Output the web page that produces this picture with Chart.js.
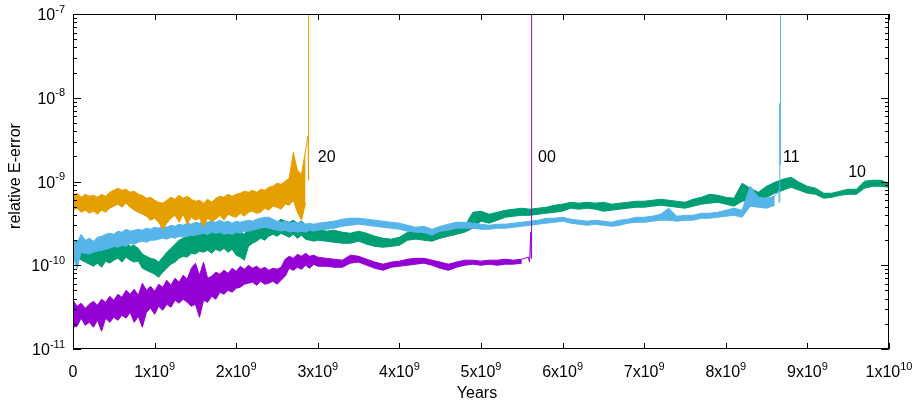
<!DOCTYPE html>
<html>
<head>
<meta charset="utf-8">
<script src="https://cdn.jsdelivr.net/npm/chart.js@4.4.1/dist/chart.umd.min.js"></script>
<style>
  html, body { margin: 0; padding: 0; background: #ffffff; }
  #wrap { width: 914px; height: 406px; }
</style>
</head>
<body>
<div id="wrap"><canvas id="c" width="914" height="406"></canvas></div>
<script>
// ---------------- DATA ----------------
// x stations in units of 1e9 years
const yearsGrid = [
  0.00,0.05,0.10,0.15,0.20,0.25,0.30,0.35,0.40,0.45,
  0.50,0.55,0.60,0.65,0.70,0.75,0.80,0.85,0.90,0.95,
  1.00,1.05,1.10,1.15,1.20,1.25,1.30,1.35,1.40,1.45,
  1.50,1.55,1.60,1.65,1.70,1.75,1.80,1.85,1.90,1.95,
  2.00,2.05,2.10,2.15,2.20,2.25,2.30,2.35,2.40,2.45,
  2.50,2.55,2.60,2.65,2.70,2.75,2.80,2.85,2.90,2.95,
  3.00,
  3.1,3.2,3.3,3.4,3.5,3.6,3.7,3.8,3.9,4.0,
  4.1,4.2,4.3,4.4,4.5,4.6,4.7,4.8,4.9,5.0,
  5.1,5.2,5.3,5.4,5.5,5.6,5.7,5.8,5.9,6.0,
  6.1,6.2,6.3,6.4,6.5,6.6,6.7,6.8,6.9,7.0,
  7.1,7.2,7.3,7.4,7.5,7.6,7.7,7.8,7.9,8.0,
  8.1,8.2,8.3,8.4,8.5,8.6,8.7,8.8,8.9,9.0,
  9.1,9.2,9.3,9.4,9.5,9.6,9.7,9.8,9.9,10.0
];

// relative E-error, in units of 1e-10: upper / lower edge of each noisy band
const run20Hi = [
  6.85,7.24,6.48,7.04,6.67,6.85,6.48,7.04,6.67,7.44,
  7.86,8.31,7.86,8.08,7.44,7.65,7.04,6.85,6.31,6.48,
  5.97,5.65,5.51,5.97,6.48,6.14,6.85,6.31,6.67,6.14,
  5.81,5.97,5.51,6.14,5.65,6.31,6.67,6.48,7.04,6.67,
  7.04,7.24,7.65,7.44,7.86,7.44,8.08,7.86,8.53,8.77,
  9.53,9.27,10.07,10.95,22.3,13.63,12.2,23.6
];
const run20Lo = [
  4.54,4.80,4.29,4.54,4.18,4.42,4.07,4.54,4.29,4.80,
  5.07,5.36,4.93,5.51,4.93,4.54,4.29,4.07,3.85,3.45,
  3.64,3.26,2.69,3.18,3.64,3.95,3.26,4.07,3.09,3.74,
  3.45,3.64,2.92,3.64,3.36,3.55,3.95,3.45,4.07,3.85,
  3.74,4.18,3.85,4.29,4.42,4.18,4.29,4.80,4.54,5.07,
  4.93,4.67,5.36,5.21,5.97,4.29,3.45,5.51
];
const run20End = [[2.85,23.6],[2.88,34.7],[2.884,10.35],[2.888,34.7],[2.89,10000]];

const run00Hi = [
  0.382,0.324,0.352,0.307,0.342,0.372,0.333,0.393,0.361,0.426,
  0.382,0.450,0.414,0.503,0.450,0.517,0.438,0.610,0.503,0.561,
  0.489,0.593,0.546,0.662,0.577,0.700,0.627,0.760,0.681,0.920,
  1.057,0.760,1.086,0.700,0.740,0.824,0.781,0.871,0.800,0.920,
  0.847,0.973,0.896,1.00,0.920,0.973,0.896,0.946,0.871,0.920,
  0.896,0.946,1.18,1.28,1.21,1.35,1.28,1.39,1.28,1.32,
  1.25,
  1.21,1.18,1.15,1.32,1.28,1.18,1.09,1.03,1.09,1.12,
  1.18,1.21,1.21,1.15,1.09,1.03,1.09,1.15,1.15,1.12,
  1.15,1.15,1.18,1.15,1.18
];
const run00Lo = [
  0.182,0.187,0.233,0.192,0.208,0.182,0.220,0.163,0.233,0.208,
  0.239,0.220,0.253,0.233,0.274,0.208,0.246,0.182,0.274,0.307,
  0.260,0.324,0.290,0.342,0.315,0.382,0.352,0.393,0.361,0.324,
  0.342,0.239,0.382,0.361,0.426,0.393,0.476,0.450,0.503,0.476,
  0.531,0.546,0.593,0.610,0.627,0.577,0.645,0.593,0.610,0.645,
  0.593,0.662,0.740,0.920,0.871,0.946,0.896,1.00,0.920,1.03,
  0.973,
  0.973,0.946,0.946,1.06,1.09,1.00,0.920,0.871,0.946,0.973,
  1.00,1.03,1.06,1.00,0.920,0.871,0.946,1.00,1.03,1.00,
  1.03,1.00,1.03,1.03,1.06
];
const run00End = [[5.5,1.18],[5.58,1.25],[5.595,1.09],[5.61,2.47],[5.615,1.21],[5.62,10000]];

const run10Hi = [
  1.83,1.99,1.78,1.68,1.51,1.43,1.55,1.47,1.64,1.59,
  1.73,1.88,1.78,1.94,1.68,1.73,1.59,1.36,1.28,1.21,
  1.18,1.09,1.25,1.43,1.59,1.78,1.99,2.10,2.22,2.28,
  2.41,2.34,2.48,2.28,2.55,2.41,2.62,2.48,2.62,2.77,
  2.55,2.48,2.34,2.77,2.92,3.00,3.18,3.09,3.36,3.45,
  3.26,3.55,3.36,3.26,3.45,3.18,3.36,3.09,2.84,2.69,
  2.77,
  2.55,2.62,2.48,2.41,2.55,2.41,2.22,2.10,2.05,2.16,
  2.48,2.55,2.41,2.34,2.55,2.62,2.77,2.92,4.29,4.42,
  4.07,4.29,4.54,4.67,4.80,4.67,4.80,4.93,5.21,5.36,
  5.65,5.51,5.65,5.51,5.65,5.36,5.51,5.65,5.81,5.81,
  5.97,6.14,5.97,5.81,5.65,6.14,6.48,7.04,6.85,6.48,
  6.31,9.53,8.31,7.44,8.77,9.78,10.65,11.25,9.78,8.77,
  8.31,7.24,7.24,7.65,8.08,8.08,10.07,10.35,10.35,9.53
];
const run10Lo = [
  1.21,1.32,1.15,1.09,1.03,0.973,1.06,0.946,1.12,1.06,
  1.15,1.21,1.09,1.25,1.15,1.09,1.12,0.920,0.871,0.824,
  0.781,0.719,0.824,0.920,1.03,1.09,1.21,1.28,1.25,1.39,
  1.36,1.47,1.43,1.51,1.39,1.55,1.47,1.59,1.43,1.55,
  1.32,1.25,1.15,1.68,1.83,1.94,2.10,1.99,2.22,2.34,
  2.22,2.41,2.28,2.16,2.34,2.10,2.28,2.05,1.99,1.94,
  1.99,
  1.94,1.88,1.83,1.83,1.94,1.78,1.68,1.64,1.68,1.73,
  1.99,2.05,1.99,1.94,2.10,2.22,2.34,2.48,2.77,3.36,
  3.18,3.45,3.74,3.85,3.95,3.95,4.07,4.18,4.29,4.42,
  4.80,4.67,4.80,4.67,4.42,4.54,4.67,4.80,4.93,4.93,
  5.07,5.21,5.07,4.93,4.80,5.07,5.36,5.51,5.65,5.36,
  5.07,5.81,5.97,6.14,6.48,7.24,7.86,8.53,7.86,7.24,
  7.04,6.31,6.48,6.85,7.04,7.04,8.31,8.77,8.77,8.53
];

const run11Hi = [
  1.99,1.83,2.34,1.99,2.10,1.94,2.16,2.22,2.34,2.41,
  2.34,2.55,2.48,2.69,2.55,2.62,2.69,2.62,2.77,2.69,
  2.84,2.77,2.92,2.84,3.00,2.92,3.09,3.00,3.18,3.09,
  3.26,3.18,3.36,3.26,3.36,3.26,3.45,3.26,3.36,3.18,
  3.36,3.26,3.36,3.45,3.36,3.55,3.64,3.74,3.74,3.55,
  3.36,3.26,3.36,3.18,3.26,3.18,3.26,3.09,3.18,3.09,
  3.18,
  3.26,3.36,3.55,3.64,3.64,3.55,3.45,3.36,3.26,3.18,
  3.00,2.84,2.92,2.69,2.92,3.09,3.26,3.26,3.18,3.09,
  3.00,3.09,3.09,3.18,3.26,3.36,3.45,3.64,3.64,3.74,
  3.55,3.45,3.36,3.45,3.36,3.26,3.45,3.55,3.74,3.74,
  3.85,4.07,4.80,3.85,3.95,3.95,4.18,4.18,4.29,4.54,
  4.80,4.54,8.77,6.48,6.31,6.67
];
const run11Lo = [
  1.25,0.920,1.43,1.39,1.36,1.43,1.47,1.51,1.55,1.59,
  1.68,1.64,1.73,1.68,1.83,1.78,1.88,1.94,1.88,1.99,
  1.99,2.05,2.10,2.05,2.16,2.10,2.22,2.16,2.22,2.28,
  2.28,2.34,2.41,2.34,2.48,2.41,2.48,2.34,2.41,2.34,
  2.48,2.41,2.55,2.55,2.62,2.69,2.77,2.84,2.77,2.69,
  2.62,2.55,2.62,2.48,2.55,2.48,2.55,2.48,2.62,2.55,
  2.62,
  2.69,2.77,2.92,3.00,3.09,3.00,2.92,2.84,2.77,2.69,
  2.55,2.48,2.48,2.28,2.55,2.62,2.77,2.77,2.77,2.69,
  2.69,2.77,2.77,2.84,2.92,3.00,3.09,3.18,3.26,3.36,
  3.18,3.09,3.00,3.09,3.00,2.92,3.00,3.18,3.26,3.26,
  3.36,3.45,3.45,3.36,3.45,3.45,3.64,3.64,3.74,3.85,
  3.95,3.74,5.07,4.93,4.80,5.21
];
const run11End = [[8.6,6.67],[8.65,7.86],[8.655,5.65],[8.662,86],[8.666,16],[8.669,86],[8.672,10000]];

const yTickExps = [-11,-10,-9,-8,-7];
const xTickValues = [0,1,2,3,4,5,6,7,8,9,10]; // in 1e9 years
const curveLabels = [["20",3.0,19.5],["00",5.7,19.5],["11",8.7,19.5],["10",9.5,12.9]];

// ---------------- BUILD ----------------
const X_UNIT = 1e9, Y_UNIT = 1e-10;
const FONT = '"Liberation Sans", Arial, Helvetica, sans-serif';
function band(vals){ return vals.map((v,i)=>({x: yearsGrid[i]*X_UNIT, y: v*Y_UNIT})); }
function pairs(arr){ return arr.map(p=>({x: p[0]*X_UNIT, y: p[1]*Y_UNIT})); }

const series = [
  {hi: run10Hi, lo: run10Lo, end: null,     color: '#009e73', order: 4},
  {hi: run11Hi, lo: run11Lo, end: run11End, color: '#56b4e9', order: 3},
  {hi: run00Hi, lo: run00Lo, end: run00End, color: '#9400d3', order: 2},
  {hi: run20Hi, lo: run20Lo, end: run20End, color: '#e69f00', order: 1}
];
const datasets = [];
series.forEach(s=>{
  datasets.push({data: band(s.hi), borderColor: s.color, backgroundColor: s.color, borderWidth: 1, fill: false, order: s.order});
  datasets.push({data: band(s.lo), borderColor: s.color, backgroundColor: s.color, borderWidth: 1, fill: '-1', order: s.order});
  if (s.end) datasets.push({data: pairs(s.end), borderColor: s.color, backgroundColor: s.color, borderWidth: 1, fill: false, order: s.order});
});

const framePlugin = {
  id: 'frame',
  afterDraw(chart){
    const ctx = chart.ctx, a = chart.chartArea;
    const xs = chart.scales.x, ys = chart.scales.y;
    ctx.save();
    ctx.strokeStyle = '#000';
    ctx.lineWidth = 1;
    ctx.beginPath();
    // y ticks (major + minor), both sides
    yTickExps.forEach(k=>{
      const y = Math.round(ys.getPixelForValue(Math.pow(10,k))) + 0.5;
      ctx.moveTo(a.left, y); ctx.lineTo(a.left+8, y);
      ctx.moveTo(a.right, y); ctx.lineTo(a.right-8, y);
      if (k < -7) {
        for (let m=2; m<=9; m++){
          const ym = Math.round(ys.getPixelForValue(m*Math.pow(10,k))) + 0.5;
          ctx.moveTo(a.left, ym); ctx.lineTo(a.left+4, ym);
          ctx.moveTo(a.right, ym); ctx.lineTo(a.right-4, ym);
        }
      }
    });
    xTickValues.forEach(v=>{
      const x = Math.round(xs.getPixelForValue(v*X_UNIT)) + 0.5;
      ctx.moveTo(x, a.bottom); ctx.lineTo(x, a.bottom-6);
      ctx.moveTo(x, a.top); ctx.lineTo(x, a.top+6);
    });
    ctx.stroke();
    ctx.strokeRect(a.left+0.5, a.top+0.5, a.right-a.left-1, a.bottom-a.top-1);

    ctx.fillStyle = '#000';
    ctx.textBaseline = 'alphabetic';
    const baseF = '16px ' + FONT, supF = '11px ' + FONT;
    // y tick labels
    yTickExps.forEach(k=>{
      const y = ys.getPixelForValue(Math.pow(10,k));
      ctx.font = baseF; const wb = ctx.measureText('10').width;
      ctx.font = supF; const sup = String(k); const ws = ctx.measureText(sup).width;
      const right = 65;
      ctx.textAlign = 'left';
      ctx.font = baseF; ctx.fillText('10', right - ws - wb, y + 6);
      ctx.font = supF; ctx.fillText(sup, right - ws, y - 1.5);
    });
    // x tick labels
    xTickValues.forEach(v=>{
      const x = xs.getPixelForValue(v*X_UNIT);
      ctx.textAlign = 'left';
      if (v === 0) {
        ctx.font = baseF; const w = ctx.measureText('0').width;
        ctx.fillText('0', x - w/2, 377);
        return;
      }
      const mant = v === 10 ? 1 : v, exp = v === 10 ? '10' : '9';
      const base = mant + 'x10';
      ctx.font = baseF; const wb = ctx.measureText(base).width;
      ctx.font = supF; const ws = ctx.measureText(exp).width;
      const x0 = x - (wb+ws)/2;
      ctx.font = baseF; ctx.fillText(base, x0, 377);
      ctx.font = supF; ctx.fillText(exp, x0 + wb, 370);
    });
    // axis titles
    ctx.font = baseF;
    ctx.textAlign = 'center';
    ctx.fillText('Years', (a.left + a.right)/2 - 4, 398);
    ctx.save();
    ctx.translate(20, 176);
    ctx.rotate(-Math.PI/2);
    ctx.fillText('relative E-error', 0, 0);
    ctx.restore();
    // curve labels
    ctx.textAlign = 'left';
    ctx.textBaseline = 'middle';
    curveLabels.forEach(l=>{
      ctx.fillText(l[0], xs.getPixelForValue(l[1]*X_UNIT), ys.getPixelForValue(l[2]*Y_UNIT));
    });
    ctx.restore();
  }
};

new Chart(document.getElementById('c'), {
  type: 'line',
  data: { datasets },
  options: {
    responsive: false,
    animation: false,
    devicePixelRatio: 1,
    parsing: true,
    layout: { padding: { left: 73, right: 25, top: 14, bottom: 57 } },
    elements: { point: { radius: 0 }, line: { tension: 0 } },
    plugins: { legend: { display: false }, tooltip: { enabled: false } },
    scales: {
      x: { type: 'linear', min: 0, max: 1e10, display: false },
      y: { type: 'logarithmic', min: 1e-11, max: 1e-7, display: false }
    }
  },
  plugins: [framePlugin]
});
</script>
</body>
</html>
